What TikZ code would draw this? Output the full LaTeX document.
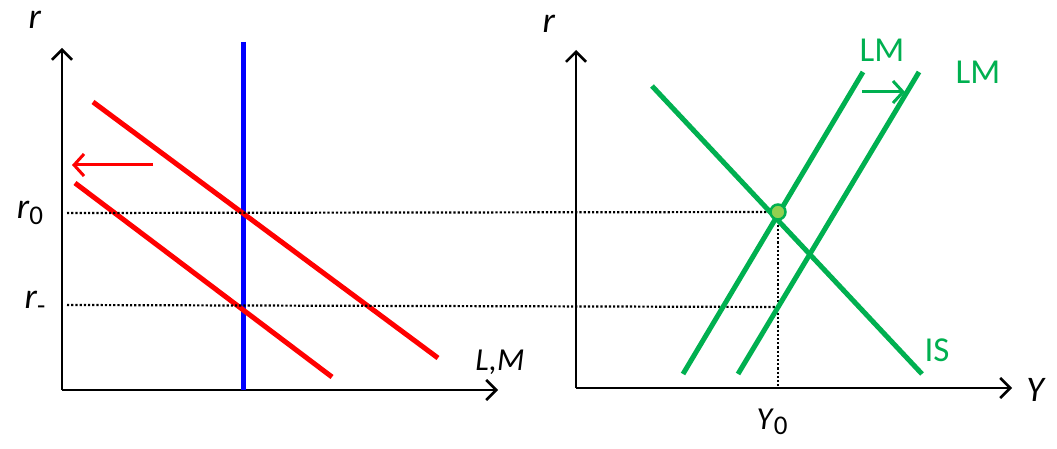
\documentclass[tikz,border=0pt]{standalone}
\usepackage{fontspec}
\setmainfont{Carlito}
\usetikzlibrary{arrows.meta}
\definecolor{myred}{RGB}{255,0,0}
\definecolor{myblue}{RGB}{0,0,255}
\definecolor{mygreen}{RGB}{0,176,80}
\definecolor{ptgreen}{RGB}{146,208,80}
\tikzset{
  axis/.style={line width=2.5pt,-{Straight Barb[length=10pt,width=20pt,line width=2.5pt]}},
  guide/.style={line width=2.2pt,dotted},
  redline/.style={line width=5pt,myred},
  greenline/.style={line width=5pt,mygreen},
  lbl/.style={inner sep=0pt,font=\fontsize{36}{40}\selectfont},
  glbl/.style={inner sep=0pt,text=mygreen,font=\fontsize{35}{40}\selectfont},
  arr/.style={line width=3pt,-{Straight Barb[length=10pt,width=22pt,line width=3pt]}}
}
\begin{document}
\begin{tikzpicture}[x=1pt,y=-1pt]
\useasboundingbox (0,0) rectangle (1057,449);
% ---------- left panel ----------
\coordinate (LO) at (62,390);
\coordinate (LY) at (62,48);
\coordinate (LX) at (498,390);
\draw[axis] (LO) -- (LY);
\draw[axis] (LO) -- (LX);
\node[lbl] (lr) at (35,20) {\textit{r}};
\node[lbl,font=\fontsize{32}{36}\selectfont] (lm) at (500,362) {\textit{L,M}};
\node[lbl] (r0) at (30,213) {\textit{r}\raisebox{-0.35ex}{\fontsize{27}{30}\selectfont 0}};
\node[lbl] (rm) at (35,303) {\textit{r}\raisebox{-0.35ex}{\fontsize{27}{30}\selectfont -}};
% blue vertical
\coordinate (B1) at (243,42);
\coordinate (B2) at (243,390);
\draw[line width=5pt,myblue] (B1) -- (B2);
% red lines
\coordinate (U1) at (93,102);
\coordinate (U2) at (438,358);
\coordinate (D1) at (75,183);
\coordinate (D2) at (332,377);
\draw[redline] (U1) -- (U2);
\draw[redline] (D1) -- (D2);
\coordinate (RA1) at (153,165);
\coordinate (RA2) at (72,165);
\draw[arr,myred] (RA1) -- (RA2);
% ---------- right panel ----------
\coordinate (RO) at (576,388);
\coordinate (RY) at (576,50);
\coordinate (RX) at (1012,388);
\draw[axis] (RO) -- (RY);
\draw[axis] (RO) -- (RX);
\node[lbl] (rr) at (549,24) {\textit{r}};
\node[lbl] (yy) at (1036,390) {\textit{Y}};
\node[lbl,font=\fontsize{32}{36}\selectfont] (y0) at (772,422) {\textit{Y}\raisebox{-0.35ex}{\fontsize{27}{30}\selectfont 0}};
% equilibrium point
\coordinate (E) at (778,212);
\coordinate (E2) at (778,307);
\coordinate (EB) at (778,388);
% dotted guides
\draw[guide] (67,213) -- (E);
\draw[guide] (67,305) -- (E2);
\draw[guide] (E) -- (EB);
% IS and LM lines
\coordinate (IS1) at (652,86);
\coordinate (IS2) at (922,374);
\coordinate (L1a) at (683,374);
\coordinate (L1b) at (863,72);
\coordinate (L2a) at (738,374);
\coordinate (L2b) at (919,72);
\draw[greenline] (IS1) -- (IS2);
\draw[greenline] (L1a) -- (L1b);
\draw[greenline] (L2a) -- (L2b);
\coordinate (GA1) at (862,92);
\coordinate (GA2) at (905,92);
\draw[arr,mygreen] (GA1) -- (GA2);
\node[circle,fill=ptgreen,draw=mygreen,line width=2.5pt,minimum size=15pt,inner sep=0pt] (pt) at (E) {};
\node[glbl] (lm1) at (882,50) {LM};
\node[glbl] (lm2) at (978,72) {LM};
\node[glbl] (is) at (937,350) {IS};
\end{tikzpicture}
\end{document}
